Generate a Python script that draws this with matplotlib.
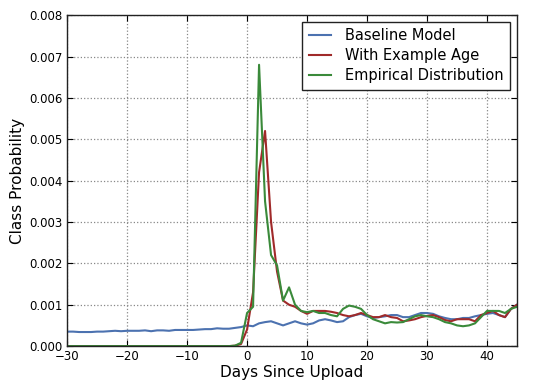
import matplotlib
matplotlib.use("Agg")
import matplotlib.pyplot as plt
import numpy as np

days = list(range(-30, 46))

baseline = [
    0.00035, 0.00035, 0.00034, 0.00034, 0.00034, 0.00035, 0.00035, 0.00036, 0.00037, 0.00036,  # -30..-21
    0.00037, 0.00037, 0.00037, 0.00038, 0.00036, 0.00038, 0.00038, 0.00037, 0.00039, 0.00039,  # -20..-11
    0.00039, 0.00039, 0.00040, 0.00041, 0.00041, 0.00043, 0.00042, 0.00042, 0.00044, 0.00046,  # -10..-1
    0.00050, 0.00048, 0.00055, 0.00058, 0.00060, 0.00055, 0.00050, 0.00055, 0.00060, 0.00055,  # 0..9
    0.00052, 0.00055, 0.00062, 0.00065, 0.00062, 0.00058, 0.00060, 0.00070, 0.00075, 0.00078,  # 10..19
    0.00072, 0.00068, 0.00070, 0.00072, 0.00075, 0.00075, 0.00070, 0.00070, 0.00075, 0.00080,  # 20..29
    0.00080, 0.00078, 0.00072, 0.00068, 0.00065, 0.00065, 0.00068, 0.00068, 0.00072, 0.00075,  # 30..39
    0.00078, 0.00080, 0.00075, 0.00070, 0.00090, 0.00100,  # 40..45
]

with_age = [0.0] * 28 + [
    0.00001, 0.00005,  # -2, -1
    0.00040, 0.00130, 0.00420, 0.00520, 0.00300, 0.00180, 0.00110, 0.00100, 0.00095, 0.00085,  # 0..9
    0.00078, 0.00085, 0.00085, 0.00085, 0.00083, 0.00080, 0.00075, 0.00072, 0.00075, 0.00080,  # 10..19
    0.00075, 0.00070, 0.00070, 0.00075, 0.00070, 0.00068, 0.00060, 0.00062, 0.00065, 0.00070,  # 20..29
    0.00073, 0.00075, 0.00070, 0.00063, 0.00060, 0.00065, 0.00065, 0.00065, 0.00060, 0.00075,  # 30..39
    0.00080, 0.00085, 0.00075, 0.00070, 0.00090, 0.00100,  # 40..45
]

empirical = [0.0] * 28 + [
    0.00001, 0.00008,  # -2, -1
    0.00080, 0.00095, 0.00680, 0.00350, 0.00220, 0.00195, 0.00110, 0.00142, 0.00100, 0.00085,  # 0..9
    0.00082, 0.00085, 0.00080, 0.00080, 0.00075, 0.00072, 0.00090, 0.00098, 0.00095, 0.00090,  # 10..19
    0.00075, 0.00065, 0.00060, 0.00055, 0.00058, 0.00057, 0.00058, 0.00065, 0.00072, 0.00075,  # 20..29
    0.00072, 0.00070, 0.00065, 0.00058, 0.00055, 0.00050, 0.00048, 0.00050, 0.00055, 0.00070,  # 30..39
    0.00085, 0.00085, 0.00085, 0.00080, 0.00090, 0.00095,  # 40..45
]

series_names = ["Baseline Model", "With Example Age", "Empirical Distribution"]
colors = ["#4C72B0", "#A02A2A", "#3A8A3A"]

fig = plt.figure(figsize=(5.5, 3.88), dpi=100)
ax = fig.add_axes([0.122, 0.108, 0.818, 0.853])

for vals, name, c in zip([baseline, with_age, empirical], series_names, colors):
    ax.plot(days, vals, color=c, lw=1.5, label=name)

ax.set_xlim(-30, 45)
ax.set_ylim(0, 0.008)
ax.set_xticks([-30, -20, -10, 0, 10, 20, 30, 40])
ax.set_yticks(np.arange(0, 0.0081, 0.001))
ax.yaxis.set_major_formatter(matplotlib.ticker.FormatStrFormatter('%.3f'))
ax.tick_params(direction='in', top=True, right=True, labelsize=8.5, length=4, width=0.8, pad=3)
ax.grid(True, linestyle=':', color='#888888', linewidth=0.9)
for s in ax.spines.values():
    s.set_linewidth(1.0)
    s.set_color('#222222')

ax.set_xlabel("Days Since Upload", fontsize=11, labelpad=1)
ax.set_ylabel("Class Probability", fontsize=11, labelpad=3)

leg = ax.legend(loc='upper right', fontsize=10.5, fancybox=False, framealpha=1,
                edgecolor='#222222', borderaxespad=0.45, handlelength=1.5, handletextpad=1.0,
                labelspacing=0.35, borderpad=0.45)
leg.get_frame().set_linewidth(1.0)

fig.savefig("out.png", dpi=100)
